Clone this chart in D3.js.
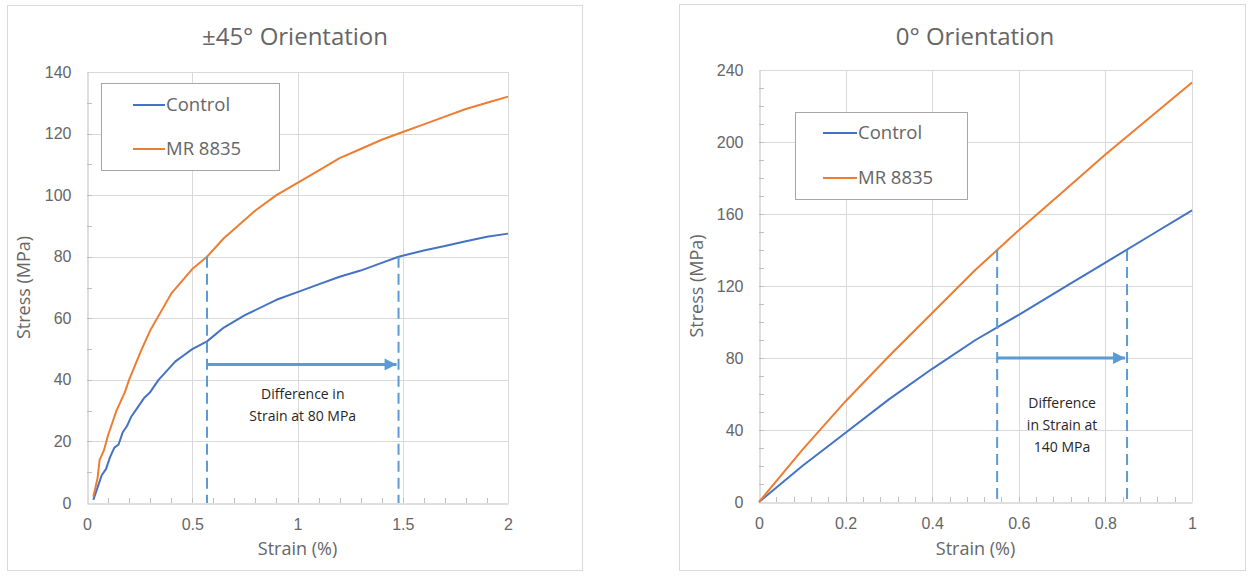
<!DOCTYPE html>
<html>
<head>
<meta charset="utf-8">
<script src="https://cdn.jsdelivr.net/npm/d3@7"></script>
<style>
  body { margin: 0; background: #fff; }
  svg { font-family: "Open Sans", sans-serif; }
</style>
</head>
<body>
<svg id="chart" width="1250" height="578"></svg>
<script>
// ±45° panel data
const ctrl45Strain = [0.03,0.05,0.07,0.09,0.11,0.13,0.15,0.17,0.19,0.21,0.24,0.27,0.30,0.34,0.38,0.42,0.46,0.50,0.57,0.65,0.75,0.90,1.00,1.10,1.20,1.30,1.40,1.48,1.60,1.70,1.80,1.90,2.00];
const ctrl45Stress = [1,5,9,11,15,18,19,23,25,28,31,34,36,40,43,46,48,50,52.5,57,61,66,68.5,71,73.5,75.5,78,80,82,83.5,85,86.5,87.5];
const mr45Strain = [0.03,0.05,0.06,0.08,0.10,0.12,0.14,0.16,0.18,0.20,0.23,0.26,0.30,0.35,0.40,0.45,0.50,0.57,0.65,0.70,0.80,0.90,1.00,1.10,1.20,1.30,1.40,1.50,1.60,1.70,1.80,1.90,2.00];
const mr45Stress = [2,8,14,17,22,26,30,33,36,40,45,50,56,62,68,72,76,80,86,89,95,100,104,108,112,115,118,120.5,123,125.5,128,130,132];

// 0° panel data
const ctrl0Strain = [0,0.1,0.2,0.3,0.4,0.5,0.6,0.7,0.8,0.9,1.0];
const ctrl0Stress = [0,20,38.5,57,74,90,104,118.5,133,147.5,162];
const mr0Strain = [0,0.1,0.2,0.3,0.4,0.5,0.55,0.6,0.7,0.8,0.9,1.0];
const mr0Stress = [0,29,56,81,105,129,140,151,172,193,213,233];

const seriesNames = ["Control", "MR 8835"];
const seriesColors = ["#4472c4", "#ed7d31"];

// annotation values: strain at reference stress for both series
const diff45 = { stress: 80, from: 0.57, to: 1.48, arrowStress: 45, label: ["Difference in", "Strain at 80 MPa"] };
const diff0 = { stress: 140, from: 0.55, to: 0.85, arrowStress: 80, label: ["Difference", "in Strain at", "140 MPa"] };

const svg = d3.select("#chart");
const textColor = "#666666";
const gridColor = "#d9d9d9";
const annoColor = "#5b9bd5";

svg.append("defs").append("marker")
    .attr("id", "arrowhead")
    .attr("viewBox", "0 0 10 10")
    .attr("refX", 10).attr("refY", 5)
    .attr("markerWidth", 5).attr("markerHeight", 4)
    .attr("markerUnits", "strokeWidth")
    .attr("orient", "auto")
  .append("path")
    .attr("d", "M0,0 L10,5 L0,10 Z")
    .attr("fill", annoColor);

function zip(xs, ys) {
    return xs.map((x, i) => ({ x: x, y: ys[i] }));
}

function drawPanel(cfg) {
    const g = svg.append("g");

    // chart border
    g.append("rect")
        .attr("x", cfg.box[0] + 0.5).attr("y", cfg.box[1] + 0.5)
        .attr("width", cfg.box[2]).attr("height", cfg.box[3])
        .attr("fill", "#fff").attr("stroke", gridColor);

    const x = d3.scaleLinear().domain(cfg.xDomain).range([cfg.plot[0], cfg.plot[1]]);
    const y = d3.scaleLinear().domain(cfg.yDomain).range([cfg.plot[3], cfg.plot[2]]);

    // gridlines
    g.append("g").selectAll("line").data(cfg.yTicks.slice(1)).enter().append("line")
        .attr("x1", cfg.plot[0]).attr("x2", cfg.plot[1])
        .attr("y1", d => Math.round(y(d)) + 0.5).attr("y2", d => Math.round(y(d)) + 0.5)
        .attr("stroke", gridColor);
    g.append("g").selectAll("line").data(cfg.xTicks.slice(1)).enter().append("line")
        .attr("y1", cfg.plot[2]).attr("y2", cfg.plot[3])
        .attr("x1", d => Math.round(x(d)) + 0.5).attr("x2", d => Math.round(x(d)) + 0.5)
        .attr("stroke", gridColor);

    // axes with minor ticks inside
    const xAxis = g.append("g").attr("transform", `translate(0,${Math.round(cfg.plot[3]) + 0.5})`)
        .call(d3.axisBottom(x).tickValues(cfg.xTicks).tickSize(0).tickPadding(15).tickFormat(d3.format("~g")));
    const yAxis = g.append("g").attr("transform", `translate(${Math.round(cfg.plot[0]) + 0.5},0)`)
        .call(d3.axisLeft(y).tickValues(cfg.yTicks).tickSize(0).tickPadding(16).tickFormat(d3.format("~g")));
    [xAxis, yAxis].forEach(a => {
        a.select(".domain").attr("stroke", "#bfbfbf");
        a.selectAll("text").attr("fill", textColor).style("font-size", "16px");
    });
    g.append("g").selectAll("line").data(cfg.xMinor).enter().append("line")
        .attr("x1", d => Math.round(x(d)) + 0.5).attr("x2", d => Math.round(x(d)) + 0.5)
        .attr("y1", cfg.plot[3]).attr("y2", cfg.plot[3] - 5)
        .attr("stroke", "#bfbfbf");
    g.append("g").selectAll("line").data(cfg.yMinor).enter().append("line")
        .attr("y1", d => Math.round(y(d)) + 0.5).attr("y2", d => Math.round(y(d)) + 0.5)
        .attr("x1", cfg.plot[0]).attr("x2", cfg.plot[0] + 5)
        .attr("stroke", "#bfbfbf");

    // title and axis titles
    g.append("text").text(cfg.title)
        .attr("x", cfg.titlePos[0]).attr("y", cfg.titlePos[1])
        .attr("text-anchor", "middle").attr("fill", textColor)
        .style("font-size", "24px");
    g.append("text").text("Strain (%)")
        .attr("x", (cfg.plot[0] + cfg.plot[1]) / 2).attr("y", 555)
        .attr("text-anchor", "middle").attr("fill", textColor)
        .style("font-size", "18px");
    g.append("text").text("Stress (MPa)")
        .attr("transform", `translate(${cfg.yTitleX},${(cfg.plot[2] + cfg.plot[3]) / 2}) rotate(-90)`)
        .attr("text-anchor", "middle").attr("fill", textColor)
        .style("font-size", "18px");

    // curves
    const line = d3.line().x(d => x(d.x)).y(d => y(d.y));
    cfg.series.forEach((s, i) => {
        g.append("path").datum(s)
            .attr("d", line)
            .attr("fill", "none")
            .attr("stroke", seriesColors[i])
            .attr("stroke-width", 2)
            .attr("stroke-linejoin", "round");
    });

    // dashed markers and arrow
    const a = cfg.diff;
    [a.from, a.to].forEach(v => {
        g.append("line")
            .attr("x1", x(v)).attr("x2", x(v))
            .attr("y1", y(a.stress)).attr("y2", y(0))
            .attr("stroke", annoColor).attr("stroke-width", 2)
            .attr("stroke-dasharray", "11,6");
    });
    g.append("line")
        .attr("x1", x(a.from)).attr("x2", x(a.to) - 2)
        .attr("y1", y(a.arrowStress)).attr("y2", y(a.arrowStress))
        .attr("stroke", annoColor).attr("stroke-width", 3)
        .attr("marker-end", "url(#arrowhead)");
    const lab = g.append("text")
        .attr("text-anchor", "middle").attr("fill", "#262626")
        .style("font-size", "14px");
    a.label.forEach((t, i) => {
        lab.append("tspan").text(t)
            .attr("x", (x(a.from) + x(a.to)) / 2)
            .attr("y", y(a.arrowStress) + cfg.labelDy + i * 22);
    });

    // legend
    const L = cfg.legend;
    g.append("rect")
        .attr("x", L.box[0] + 0.5).attr("y", L.box[1] + 0.5)
        .attr("width", L.box[2]).attr("height", L.box[3])
        .attr("fill", "#fff").attr("stroke", "#a6a6a6");
    seriesNames.forEach((n, i) => {
        const ly = L.rows[i];
        g.append("line")
            .attr("x1", L.lineX[0]).attr("x2", L.lineX[1])
            .attr("y1", ly).attr("y2", ly)
            .attr("stroke", seriesColors[i]).attr("stroke-width", 2);
        g.append("text").text(n)
            .attr("x", L.lineX[1] + 1).attr("y", ly)
            .attr("dy", "0.35em").attr("fill", textColor)
            .style("font-size", "18.5px");
    });
}

drawPanel({
    box: [7, 5, 575, 565],
    plot: [87, 508, 72, 503],
    xDomain: [0, 2], yDomain: [0, 140],
    xTicks: [0, 0.5, 1, 1.5, 2], yTicks: [0, 20, 40, 60, 80, 100, 120, 140],
    xMinor: d3.range(1, 20).map(i => i / 10), yMinor: d3.range(1, 14).map(i => i * 10),
    title: "±45° Orientation", titlePos: [295, 45], yTitleX: 30,
    series: [zip(ctrl45Strain, ctrl45Stress), zip(mr45Strain, mr45Stress)],
    diff: diff45, labelDy: 35,
    legend: { box: [101, 83, 178, 87], lineX: [133, 165], rows: [105, 149] }
});

drawPanel({
    box: [679, 4, 566, 566],
    plot: [759, 1192, 70, 502],
    xDomain: [0, 1], yDomain: [0, 240],
    xTicks: [0, 0.2, 0.4, 0.6, 0.8, 1], yTicks: [0, 40, 80, 120, 160, 200, 240],
    xMinor: d3.range(1, 25).map(i => i * 0.04), yMinor: d3.range(1, 24).map(i => i * 10),
    title: "0° Orientation", titlePos: [975, 45], yTitleX: 703,
    series: [zip(ctrl0Strain, ctrl0Stress), zip(mr0Strain, mr0Stress)],
    diff: diff0, labelDy: 50,
    legend: { box: [795, 112, 172, 87], lineX: [823, 857], rows: [133, 178] }
});
</script>
</body>
</html>
